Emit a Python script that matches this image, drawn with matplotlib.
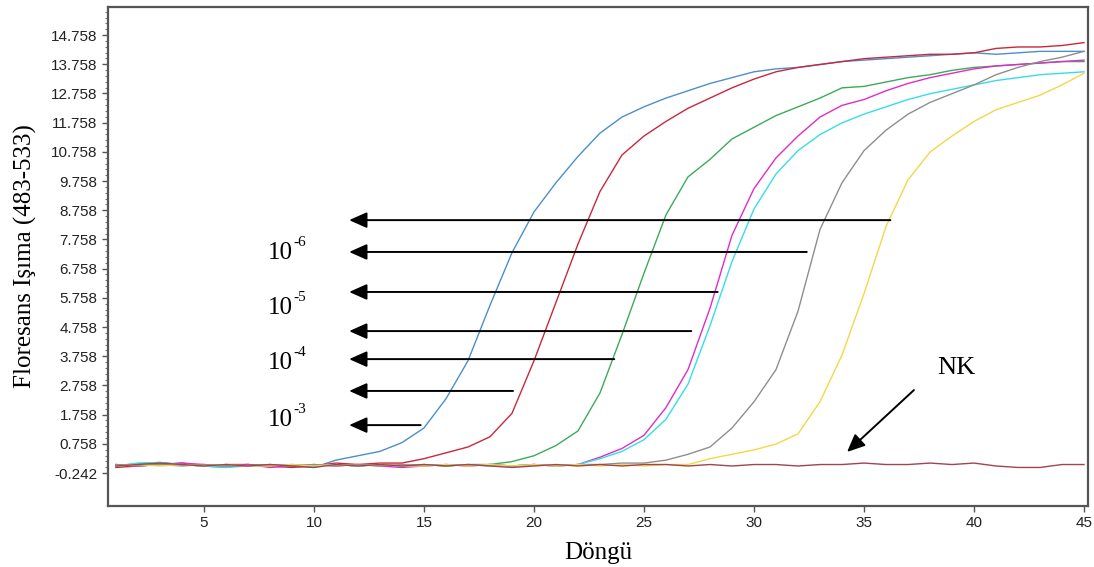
import numpy as np
import matplotlib
matplotlib.use("Agg")
import matplotlib.pyplot as plt

cycles = np.arange(1, 46)

blue = [0.0, 0.08, 0.12, 0.05, 0.0, 0.02, 0.05, 0.0, 0.03, -0.05,
        0.2, 0.35, 0.5, 0.8, 1.3, 2.3, 3.6, 5.5, 7.3, 8.7,
        9.7, 10.6, 11.4, 11.95, 12.3, 12.6, 12.85, 13.1, 13.3, 13.5,
        13.6, 13.65, 13.75, 13.85, 13.9, 13.95, 14.0, 14.05, 14.1, 14.15,
        14.1, 14.15, 14.2, 14.2, 14.2]
red = [-0.05, 0.0, 0.05, 0.1, 0.0, 0.05, 0.05, 0.0, -0.05, 0.0,
       0.1, 0.05, 0.1, 0.1, 0.25, 0.45, 0.65, 1.0, 1.8, 3.6,
       5.6, 7.6, 9.4, 10.65, 11.3, 11.8, 12.25, 12.6, 12.95, 13.25,
       13.5, 13.65, 13.75, 13.85, 13.95, 14.0, 14.05, 14.1, 14.1, 14.15,
       14.3, 14.35, 14.35, 14.4, 14.5]
green = [0.0, 0.05, 0.1, 0.05, 0.0, -0.05, 0.05, 0.0, 0.05, 0.0,
         0.05, 0.0, 0.05, 0.0, 0.05, 0.0, 0.05, 0.05, 0.15, 0.35,
         0.7, 1.2, 2.5, 4.5, 6.6, 8.6, 9.9, 10.5, 11.2, 11.6,
         12.0, 12.3, 12.6, 12.95, 13.0, 13.15, 13.3, 13.4, 13.55, 13.65,
         13.7, 13.75, 13.8, 13.85, 13.85]
magenta = [0.05, 0.0, 0.05, 0.1, 0.05, 0.0, 0.05, -0.05, 0.0, 0.05,
           0.0, 0.05, 0.0, -0.05, 0.0, 0.05, 0.0, 0.05, 0.0, 0.05,
           0.0, 0.05, 0.3, 0.6, 1.05, 2.0, 3.3, 5.4, 7.9, 9.5,
           10.55, 11.3, 11.95, 12.35, 12.55, 12.85, 13.1, 13.3, 13.45, 13.6,
           13.7, 13.75, 13.8, 13.85, 13.9]
cyan = [0.0, 0.1, 0.12, 0.05, 0.0, -0.05, 0.0, 0.05, 0.0, 0.0,
        0.05, 0.0, 0.05, 0.0, 0.05, 0.0, 0.05, 0.0, 0.0, 0.05,
        0.0, 0.05, 0.25, 0.5, 0.9, 1.6, 2.8, 4.8, 7.0, 8.8,
        10.0, 10.8, 11.35, 11.75, 12.05, 12.3, 12.55, 12.75, 12.9, 13.05,
        13.2, 13.3, 13.4, 13.45, 13.5]
gray = [0.05, 0.0, 0.05, 0.0, 0.05, 0.0, 0.0, 0.05, 0.0, 0.05,
        0.0, 0.05, 0.0, 0.05, 0.0, 0.05, 0.0, 0.05, 0.0, 0.05,
        0.0, 0.05, 0.05, 0.1, 0.1, 0.2, 0.4, 0.65, 1.3, 2.2,
        3.3, 5.3, 8.1, 9.7, 10.8, 11.5, 12.05, 12.45, 12.75, 13.05,
        13.4, 13.65, 13.85, 14.0, 14.2]
yellow = [0.0, 0.05, 0.0, 0.05, 0.0, 0.05, 0.0, 0.0, 0.05, 0.0,
          0.05, 0.0, 0.05, 0.0, 0.0, 0.05, 0.0, 0.05, 0.0, 0.05,
          0.0, 0.05, 0.0, 0.05, 0.0, 0.05, 0.05, 0.25, 0.4, 0.55,
          0.75, 1.1, 2.2, 3.8, 5.9, 8.2, 9.8, 10.75, 11.3, 11.8,
          12.2, 12.45, 12.7, 13.05, 13.45]
nk = [0.0, 0.05, 0.1, 0.05, 0.0, 0.05, 0.0, 0.05, 0.0, -0.05,
      0.05, 0.0, 0.05, 0.0, 0.05, 0.0, 0.05, 0.0, -0.05, 0.0,
      0.05, 0.0, 0.05, 0.0, 0.05, 0.05, 0.0, 0.05, 0.0, 0.05,
      0.05, 0.0, 0.05, 0.05, 0.1, 0.05, 0.05, 0.1, 0.05, 0.1,
      0.0, -0.05, -0.05, 0.05, 0.05]

curves = [blue, red, green, magenta, cyan, gray, yellow, nk]
colors = ['#4C8FC9', '#C8283C', '#3DAA5A', '#E02CC8', '#35DEE6',
          '#8E8E8E', '#F2D848', '#A04452']

# horizontal arrows: y level and right end (cycle)
arrow_y = [8.42, 7.33, 5.96, 4.62, 3.66, 2.57, 1.40]
arrow_end = [36.2, 32.4, 28.35, 27.15, 23.65, 19.05, 14.85]
arrow_tip = 11.6

dilution_exp = ['-6', '-5', '-4', '-3']
dilution_y = [7.29, 5.41, 3.52, 1.57]

yticks = [-0.242, 0.758, 1.758, 2.758, 3.758, 4.758, 5.758, 6.758,
          7.758, 8.758, 9.758, 10.758, 11.758, 12.758, 13.758, 14.758]
xticks = [5, 10, 15, 20, 25, 30, 35, 40, 45]

fig = plt.figure(figsize=(10.94, 5.67), dpi=100)
ax = fig.add_axes([0.0987, 0.1076, 0.8958, 0.8801])

for ys, c in zip(curves, colors):
    ax.plot(cycles, ys, color=c, lw=1.0)

arrow_style = dict(arrowstyle='-|>,head_length=0.9,head_width=0.4',
                   mutation_scale=12, color='black', lw=1.4,
                   shrinkA=0, shrinkB=0)

for y, xe in zip(arrow_y, arrow_end):
    ax.annotate('', xy=(arrow_tip, y), xytext=(xe, y), arrowprops=arrow_style)

# "10" with a small raised exponent
for e, y in zip(dilution_exp, dilution_y):
    ax.text(7.9, y, '10', fontsize=18, family='Liberation Serif',
            va='center', ha='left')
    ax.annotate(e, xy=(7.9, y), xytext=(18.5, 3), textcoords='offset points',
                fontsize=11, family='Liberation Serif', va='bottom', ha='left')

ax.text(39.2, 3.35, 'NK', fontsize=19, family='Liberation Serif',
        ha='center', va='center')
ax.annotate('', xy=(34.23, 0.48), xytext=(37.27, 2.6), arrowprops=arrow_style)

ax.set_xlim(0.64, 45.18)
ax.set_ylim(-1.37, 15.72)
ax.set_xticks(xticks)
ax.set_xticklabels([str(v) for v in xticks], family='Liberation Sans', fontsize=11)
ax.set_yticks(yticks)
ax.set_yticklabels(['%.3f' % v for v in yticks], family='Liberation Sans', fontsize=11)
ax.set_yticks(np.arange(-0.242, 15.6, 0.2), minor=True)
ax.tick_params(axis='both', which='major', length=4, width=1, color='#555555',
               labelcolor='#222222')
ax.tick_params(axis='y', which='minor', length=2, width=0.8, color='#777777')

for s in ax.spines.values():
    s.set_linewidth(1.6)
    s.set_color('#555555')

ax.set_xlabel('Döngü', family='Liberation Serif', fontsize=18, labelpad=8)
ax.set_ylabel('Floresans Işıma (483-533)', family='Liberation Serif', fontsize=18,
              labelpad=10)

fig.savefig('out.png', dpi=100)
